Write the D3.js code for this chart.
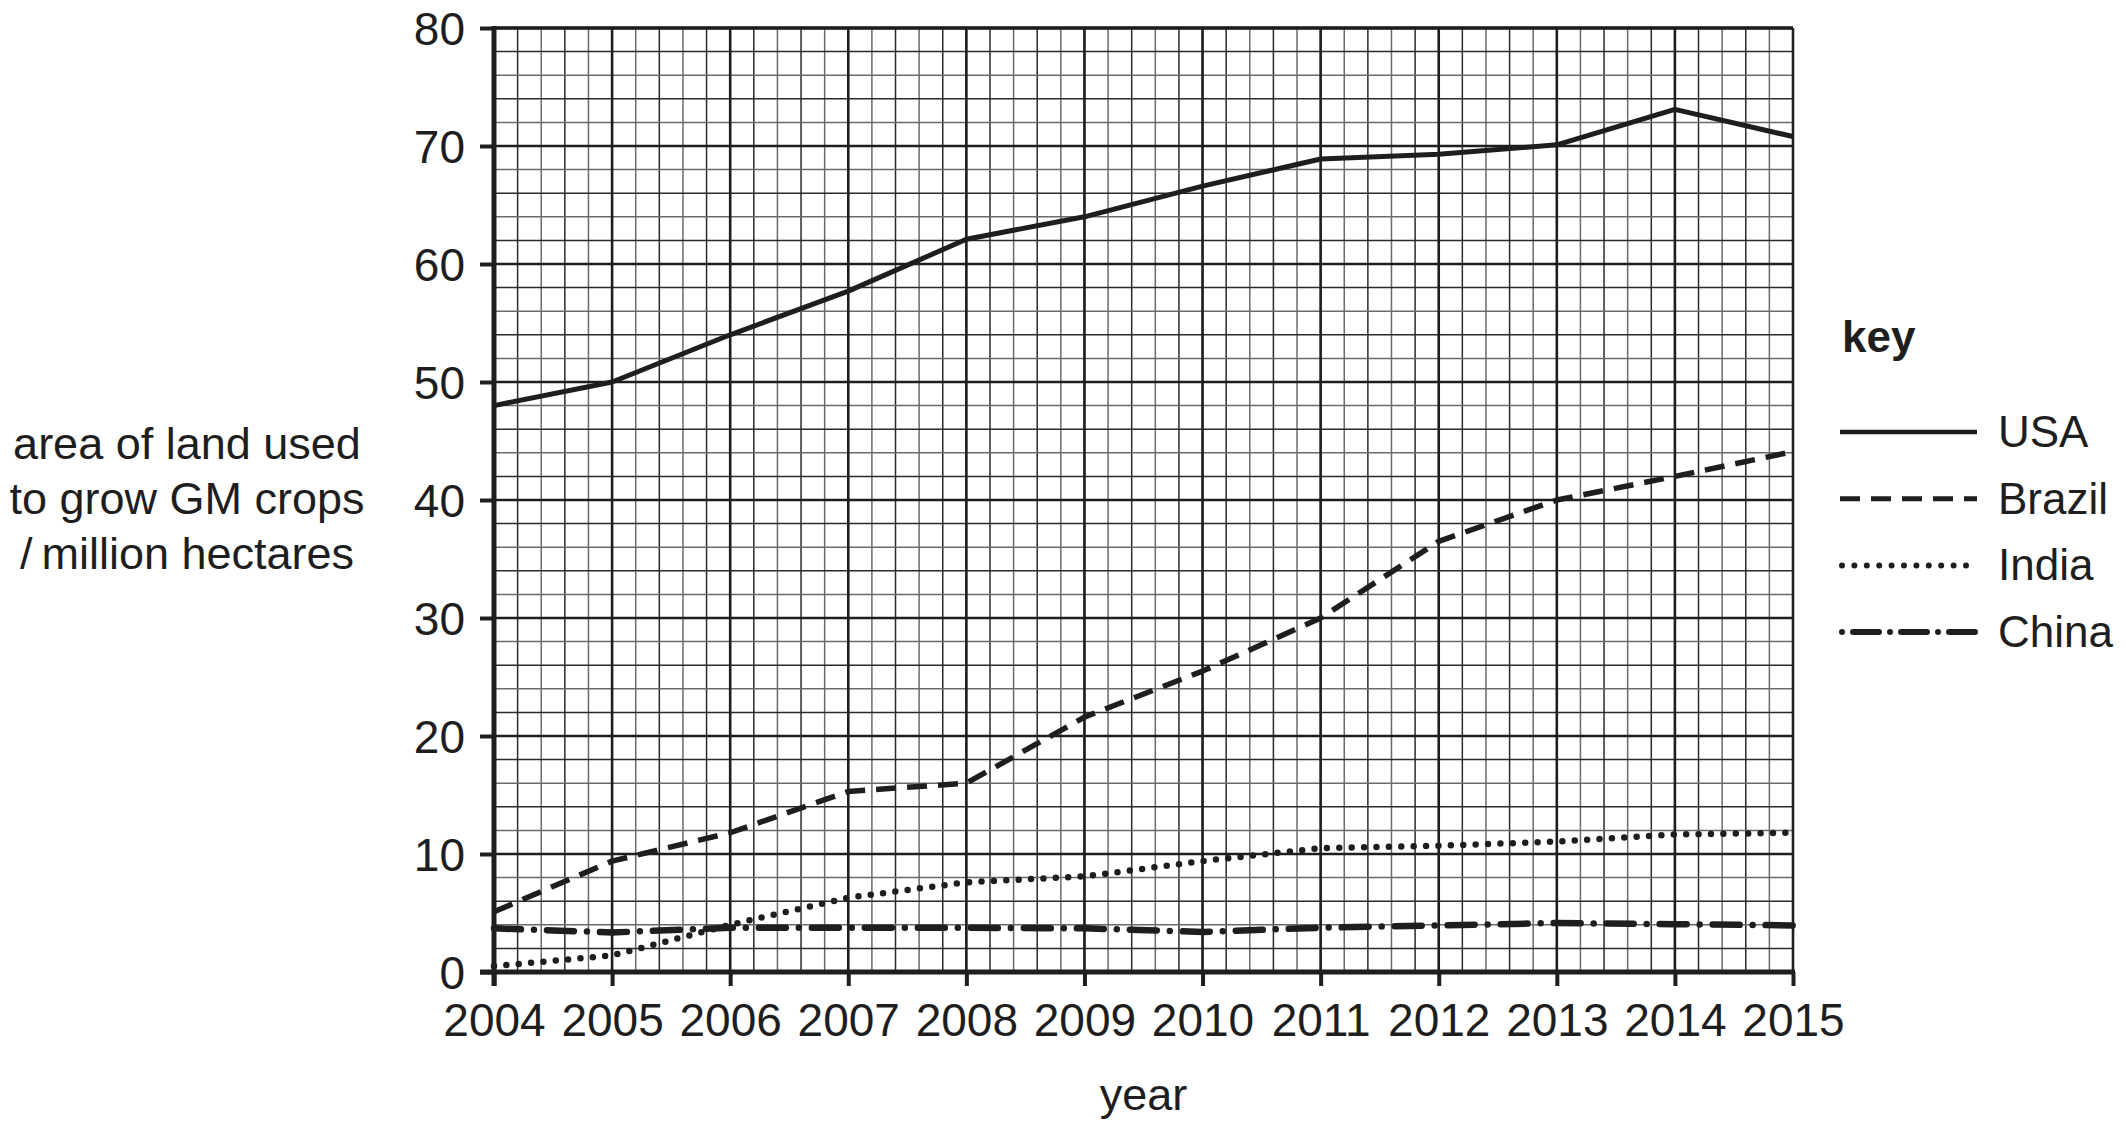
<!DOCTYPE html>
<html>
<head>
<meta charset="utf-8">
<script src="https://cdn.jsdelivr.net/npm/d3@7"></script>
<style>
  body { margin: 0; background: #fff; }
  svg { display: block; font-family: "Liberation Sans", Arial, sans-serif; }
</style>
</head>
<body>
<svg id="chart" width="2126" height="1130"></svg>
<script>
const years = [2004, 2005, 2006, 2007, 2008, 2009, 2010, 2011, 2012, 2013, 2014, 2015];
const usa = [48.0, 50.0, 54.0, 57.7, 62.1, 64.0, 66.6, 68.9, 69.3, 70.1, 73.1, 70.8];
const brazil = [5.1, 9.4, 11.8, 15.3, 16.0, 21.6, 25.5, 30.0, 36.5, 40.0, 42.0, 44.1];
const india = [0.5, 1.4, 4.0, 6.3, 7.6, 8.1, 9.4, 10.5, 10.7, 11.05, 11.65, 11.8];
const china = [3.7, 3.35, 3.75, 3.75, 3.75, 3.7, 3.4, 3.75, 3.95, 4.15, 4.05, 3.95];
const yTicks = [0, 10, 20, 30, 40, 50, 60, 70, 80];
const seriesNames = ["USA", "Brazil", "India", "China"];

const svg = d3.select("#chart");
const x = d3.scaleLinear().domain([2004, 2015]).range([494, 1793]);
const y = d3.scaleLinear().domain([0, 80]).range([972, 28]);

const grid = svg.append("g");
// minor grid: 5 per year, 5 per 10 units
grid.selectAll(".vminor")
  .data(d3.range(0, 56).map(i => 2004 + i / 5))
  .join("line")
  .attr("x1", d => x(d)).attr("x2", d => x(d))
  .attr("y1", y(0)).attr("y2", y(80))
  .attr("stroke", (d, i) => i % 2 ? "#2a2a2a" : "#6a6a6a")
  .attr("stroke-width", 1.5);
grid.selectAll(".hminor")
  .data(d3.range(0, 41).map(i => i * 2))
  .join("line")
  .attr("y1", d => y(d)).attr("y2", d => y(d))
  .attr("x1", x(2004)).attr("x2", x(2015))
  .attr("stroke", (d, i) => i % 2 ? "#2a2a2a" : "#6a6a6a")
  .attr("stroke-width", 1.5);
// major grid
grid.selectAll(".vmajor")
  .data(years)
  .join("line")
  .attr("x1", d => x(d)).attr("x2", d => x(d))
  .attr("y1", y(0)).attr("y2", y(80))
  .attr("stroke", "#1e1e1e")
  .attr("stroke-width", 2.6);
grid.selectAll(".hmajor")
  .data(yTicks)
  .join("line")
  .attr("y1", d => y(d)).attr("y2", d => y(d))
  .attr("x1", x(2004)).attr("x2", x(2015))
  .attr("stroke", "#1e1e1e")
  .attr("stroke-width", 2.6);

// axes
const yAxis = svg.append("g")
  .attr("transform", `translate(${x(2004)},0)`)
  .call(d3.axisLeft(y).tickValues(yTicks).tickSize(14).tickPadding(15));
const xAxis = svg.append("g")
  .attr("transform", `translate(0,${y(0)})`)
  .call(d3.axisBottom(x).tickValues(years).tickFormat(d3.format("d")).tickSize(14).tickPadding(17));
[yAxis, xAxis].forEach(g => {
  g.select(".domain").remove();
  g.selectAll(".tick line").attr("stroke", "#1e1e1e").attr("stroke-width", 4);
  g.selectAll(".tick text")
    .attr("fill", "#1e1e1e")
    .attr("font-size", 46)
    .attr("font-family", "Liberation Sans, Arial, sans-serif");
});
yAxis.selectAll(".tick text").attr("dy", "0.36em");
xAxis.selectAll(".tick text").attr("dy", "0.72em");

svg.append("line")
  .attr("x1", x(2004)).attr("x2", x(2004))
  .attr("y1", y(80) - 2).attr("y2", y(0) + 14)
  .attr("stroke", "#1e1e1e").attr("stroke-width", 5);
svg.append("line")
  .attr("x1", x(2004) - 14).attr("x2", x(2015) + 2)
  .attr("y1", y(0)).attr("y2", y(0))
  .attr("stroke", "#1e1e1e").attr("stroke-width", 5);
svg.append("line")
  .attr("x1", x(2004)).attr("x2", x(2015))
  .attr("y1", y(80)).attr("y2", y(80))
  .attr("stroke", "#1e1e1e").attr("stroke-width", 3.5);

// series
const styles = {
  USA: { dash: null, width: 5, cap: "butt" },
  Brazil: { dash: "20,11", width: 5.5, cap: "butt" },
  India: { dash: "0,12.4", width: 6.5, cap: "round" },
  China: { dash: "27,13,0,13", width: 6.5, cap: "round" }
};
const seriesValues = { USA: usa, Brazil: brazil, India: india, China: china };
const line = d3.line().x((d, i) => x(years[i])).y(d => y(d));

svg.append("g")
  .selectAll("path")
  .data(seriesNames)
  .join("path")
  .attr("d", name => line(seriesValues[name]))
  .attr("fill", "none")
  .attr("stroke", "#1e1e1e")
  .attr("stroke-width", name => styles[name].width)
  .attr("stroke-dasharray", name => styles[name].dash)
  .attr("stroke-linecap", name => styles[name].cap)
  .attr("stroke-linejoin", "round");

// axis titles
svg.append("text")
  .attr("x", 187)
  .attr("text-anchor", "middle")
  .attr("font-size", 45)
  .attr("fill", "#1e1e1e")
  .selectAll("tspan")
  .data(["area of land used", "to grow GM crops", "/\u2009million hectares"])
  .join("tspan")
  .attr("x", 187)
  .attr("y", (d, i) => 459 + i * 55)
  .text(d => d);

svg.append("text")
  .attr("x", (x(2004) + x(2015)) / 2)
  .attr("y", 1110)
  .attr("text-anchor", "middle")
  .attr("font-size", 45)
  .attr("fill", "#1e1e1e")
  .text("year");

// key
const key = svg.append("g");
key.append("text")
  .attr("x", 1842).attr("y", 352)
  .attr("font-size", 44).attr("font-weight", "bold")
  .attr("fill", "#1e1e1e")
  .text("key");
const keyRows = key.selectAll(".row")
  .data(seriesNames)
  .join("g")
  .attr("transform", (d, i) => `translate(0,${432 + i * 66.7})`);
keyRows.append("line")
  .attr("x1", d => d === "India" || d === "China" ? 1842 : 1840)
  .attr("x2", 1977)
  .attr("stroke", "#1e1e1e")
  .attr("stroke-width", d => styles[d].width - 0.5)
  .attr("stroke-dasharray", d => d === "China" ? "0,11,26,11" : styles[d].dash)
  .attr("stroke-linecap", d => styles[d].cap);
keyRows.append("text")
  .attr("x", 1998).attr("y", 15)
  .attr("font-size", 44)
  .attr("fill", "#1e1e1e")
  .text(d => d);
</script>
</body>
</html>
